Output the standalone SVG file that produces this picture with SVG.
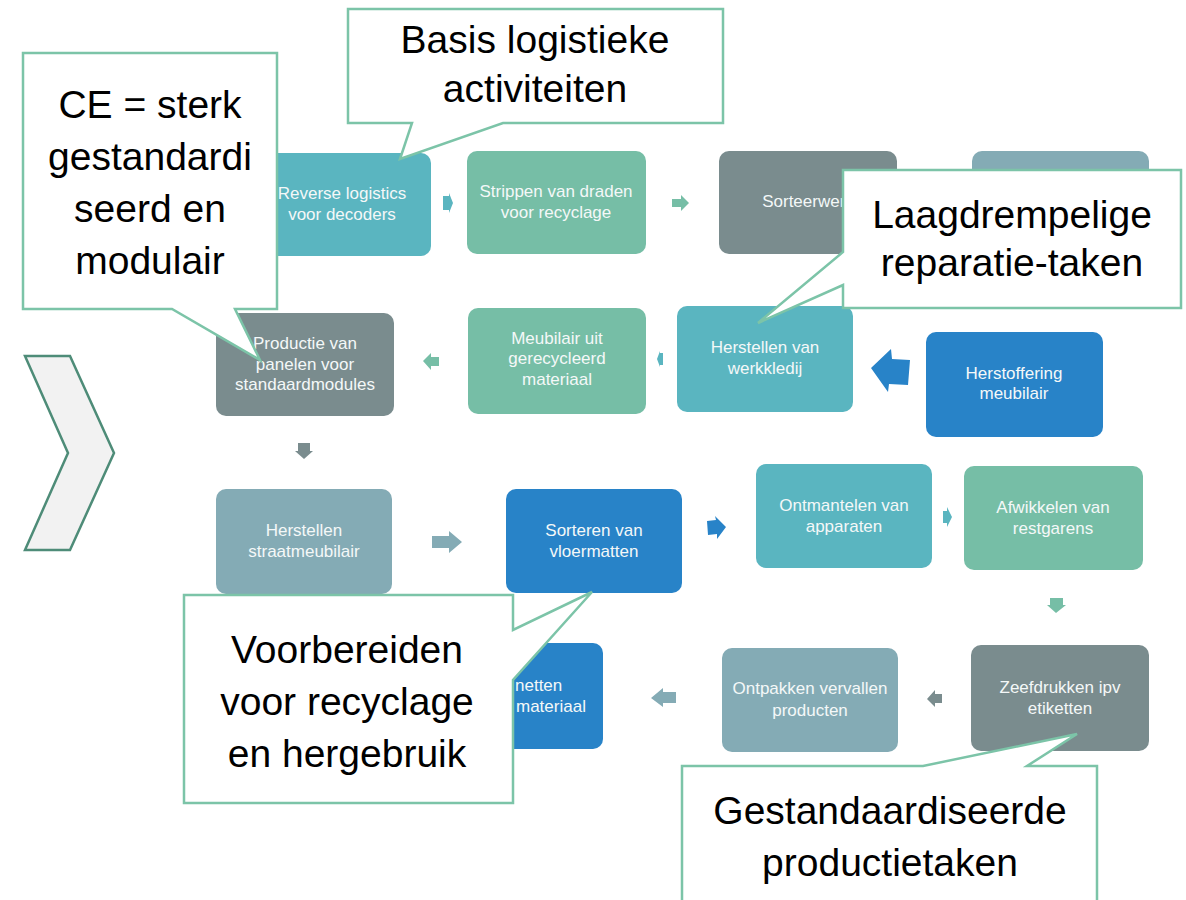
<svg xmlns="http://www.w3.org/2000/svg" width="1186" height="900" viewBox="0 0 1186 900">
<style>
.box{stroke:none}
.teal{fill:#5ab5c0}
.green{fill:#76bea6}
.gray{fill:#7a8c8e}
.bgray{fill:#84abb5}
.blue{fill:#2883c8}
.bt{font-family:"Liberation Sans",Arial,sans-serif;font-size:17px;fill:#f4f8f8;text-anchor:middle}
.co{fill:#ffffff;stroke:#7cc4a8;stroke-width:2.5;stroke-linejoin:miter}
.ct{font-family:"Liberation Sans",Arial,sans-serif;font-size:39px;fill:#000000;text-anchor:middle}
</style>
<rect width="1186" height="900" fill="#ffffff"/>

<g id="chevron">
<polygon points="25,356 70,356 114,453 70,550 25,550 68,453" fill="#f2f2f2" stroke="#4e8c78" stroke-width="2.5"/>
</g>

<g id="n-reverse"><rect class="box teal" x="253" y="153" width="178" height="103" rx="10"/>
<text class="bt" x="342" y="199">Reverse logistics</text><text class="bt" x="342" y="220">voor decoders</text></g>
<g id="n-strippen"><rect class="box green" x="467" y="151" width="179" height="103" rx="10"/>
<text class="bt" x="556" y="197">Strippen van draden</text><text class="bt" x="556" y="218">voor recyclage</text></g>
<g id="n-sorteerwerk"><rect class="box gray" x="719" y="151" width="178" height="103" rx="10"/>
<text class="bt" x="808" y="207">Sorteerwerk</text></g>
<g id="n-row1-4"><rect class="box bgray" x="972" y="151" width="177" height="103" rx="10"/></g>

<g id="n-productie"><rect class="box gray" x="216" y="313" width="178" height="103" rx="10"/>
<text class="bt" x="305" y="349">Productie van</text><text class="bt" x="305" y="370">panelen voor</text><text class="bt" x="305" y="390">standaardmodules</text></g>
<g id="n-meubilair"><rect class="box green" x="468" y="308" width="178" height="106" rx="10"/>
<text class="bt" x="557" y="344">Meubilair uit</text><text class="bt" x="557" y="364">gerecycleerd</text><text class="bt" x="557" y="385">materiaal</text></g>
<g id="n-werkkledij"><rect class="box teal" x="677" y="306" width="176" height="106" rx="10"/>
<text class="bt" x="765" y="353">Herstellen van</text><text class="bt" x="765" y="374">werkkledij</text></g>
<g id="n-herstoffering"><rect class="box blue" x="926" y="332" width="177" height="105" rx="10"/>
<text class="bt" x="1014" y="379">Herstoffering</text><text class="bt" x="1014" y="399">meubilair</text></g>

<g id="n-straat"><rect class="box bgray" x="216" y="489" width="176" height="105" rx="10"/>
<text class="bt" x="304" y="536">Herstellen</text><text class="bt" x="304" y="557">straatmeubilair</text></g>
<g id="n-vloermatten"><rect class="box blue" x="506" y="489" width="176" height="104" rx="10"/>
<text class="bt" x="594" y="536">Sorteren van</text><text class="bt" x="594" y="557">vloermatten</text></g>
<g id="n-ontmantelen"><rect class="box teal" x="756" y="464" width="176" height="104" rx="10"/>
<text class="bt" x="844" y="511">Ontmantelen van</text><text class="bt" x="844" y="532">apparaten</text></g>
<g id="n-afwikkelen"><rect class="box green" x="964" y="466" width="179" height="104" rx="10"/>
<text class="bt" x="1053" y="513">Afwikkelen van</text><text class="bt" x="1053" y="534">restgarens</text></g>

<g id="n-netten"><rect class="box blue" x="426" y="643" width="177" height="106" rx="10"/>
<text class="bt" x="515" y="691" style="text-anchor:start">netten</text><text class="bt" x="516" y="712" style="text-anchor:start">materiaal</text></g>
<g id="n-ontpakken"><rect class="box bgray" x="722" y="648" width="176" height="104" rx="10"/>
<text class="bt" x="810" y="694">Ontpakken vervallen</text><text class="bt" x="810" y="716">producten</text></g>
<g id="n-zeefdrukken"><rect class="box gray" x="971" y="645" width="178" height="106" rx="10"/>
<text class="bt" x="1060" y="693">Zeefdrukken ipv</text><text class="bt" x="1060" y="714">etiketten</text></g>

<g id="connectors">
<polygon class="teal" points="443,196 449,196 449,193 453,203 449,213 449,210 443,210"/>
<polygon class="green" points="672,199 681,199 681,195 689,203 681,211 681,207 672,207"/>
<polygon class="teal" points="663,353 660,353 660,351 657,359 660,367 660,365 663,365"/>
<polygon class="green" points="439,357 431,357 431,353 423,361 431,370 431,366 439,366"/>
<polygon class="blue" points="871,368 891,349 892,359 910,360 908,385 889,384 888,392"/>
<polygon class="gray" points="298,443 310,443 310,451 313,451 304,459 295,451 298,451"/>
<polygon class="bgray" points="432,536 449,536 449,531 462,542 449,553 449,548 432,548"/>
<polygon class="blue" points="707,521 716,520 715,516 726,527 717,539 717,534 708,535"/>
<polygon class="teal" points="943,511 947,511 947,507 952,517 947,527 947,523 943,523"/>
<polygon class="green" points="1050,598 1063,598 1063,605 1066,605 1056,613 1047,605 1050,605"/>
<polygon class="gray" points="942,694 935,694 935,690 927,699 935,707 935,703 942,703"/>
<polygon class="bgray" points="676,692 663,692 663,688 651,698 663,707 663,703 676,703"/>
</g>

<g id="callout-ce">
<path class="co" d="M23,53 L277,53 L277,309 L235,309 L260,360 L172,309 L23,309 Z"/>
<text class="ct" x="150" y="118">CE = sterk</text>
<text class="ct" x="150" y="170">gestandardi</text>
<text class="ct" x="150" y="222">seerd en</text>
<text class="ct" x="150" y="274">modulair</text>
</g>
<g id="callout-basis">
<path class="co" d="M348,9 L723,9 L723,123 L503,123 L400,159 L412,123 L348,123 Z"/>
<text class="ct" x="535" y="53">Basis logistieke</text>
<text class="ct" x="535" y="102">activiteiten</text>
</g>
<g id="callout-laag">
<path class="co" d="M843,170 L1181,170 L1181,308 L843,308 L843,285 L758,323 L843,252 Z"/>
<text class="ct" x="1012" y="228">Laagdrempelige</text>
<text class="ct" x="1012" y="276">reparatie-taken</text>
</g>
<g id="callout-voorbereiden">
<path class="co" d="M184,595 L513,595 L513,630 L592,592 L513,680 L513,803 L184,803 Z"/>
<text class="ct" x="347" y="663">Voorbereiden</text>
<text class="ct" x="347" y="715">voor recyclage</text>
<text class="ct" x="347" y="767">en hergebruik</text>
</g>
<g id="callout-gestandaardiseerde">
<path class="co" d="M682,910 L682,766 L923,766 L1077,734 L1027,766 L1097,766 L1097,910"/>
<text class="ct" x="890" y="824">Gestandaardiseerde</text>
<text class="ct" x="890" y="876">productietaken</text>
</g>
</svg>
